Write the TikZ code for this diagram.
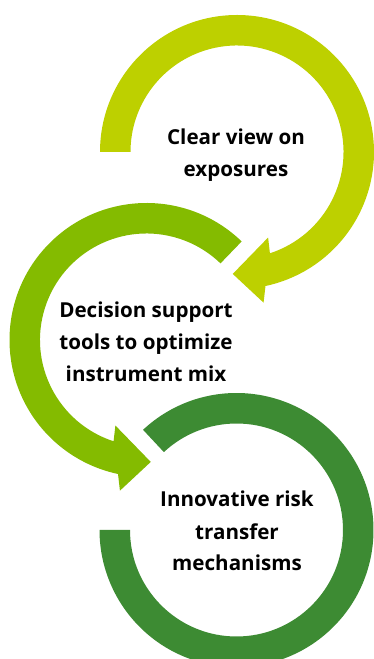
\documentclass[tikz,border=0pt]{standalone}
\usepackage{fontspec}
\setmainfont{Open Sans}
\definecolor{ctop}{RGB}{189,208,0}
\definecolor{cmid}{RGB}{132,187,0}
\definecolor{cbot}{RGB}{61,139,51}
\tikzset{
  lbl/.style={align=center, anchor=base, text=black,
    font=\fontsize{20.6pt}{32pt}\selectfont\bfseries}
}
\begin{document}
\begin{tikzpicture}[x=1pt,y=1pt]
\useasboundingbox (0,0) rectangle (374,659);
\clip (0,0) rectangle (374,659);
% top ring with arrow
\begin{scope}[shift={(237,507)}]
\fill[ctop] (180:137) arc[start angle=180, end angle=-78, radius=137]
  -- (-80:153) -- (-92:122) -- (-70:91) -- (-72:106.5)
  arc[start angle=-72, end angle=180, radius=106.5] -- cycle;
\end{scope}
% middle ring with arrow
\begin{scope}[shift={(146.5,319)}]
\fill[cmid] (46:137) arc[start angle=46, end angle=258, radius=137]
  -- (260:153) -- (272:122) -- (250:91) -- (252:106.5)
  arc[start angle=252, end angle=46, radius=106.5] -- cycle;
\end{scope}
% bottom ring
\begin{scope}[shift={(236.5,129)}]
\fill[cbot] (133:137) arc[start angle=133, end angle=-180, radius=137]
  -- (180:106.5) arc[start angle=-180, end angle=133, radius=106.5] -- cycle;
\end{scope}
\node[lbl] (t1) at (236,482) {Clear view on\\exposures};
\node[lbl] (t2) at (146,277) {Decision support\\tools to optimize\\instrument mix};
\node[lbl] (t3) at (237,88) {Innovative risk\\transfer\\mechanisms};
\end{tikzpicture}
\end{document}
